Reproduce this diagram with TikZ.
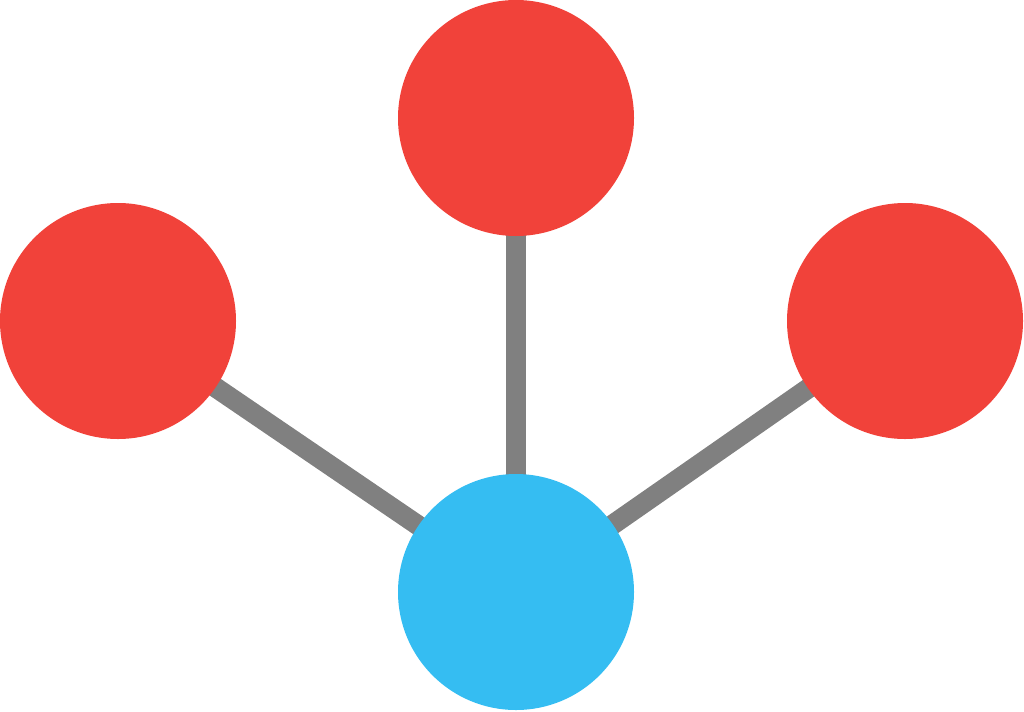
\documentclass[tikz,border=0pt]{standalone}
\usepackage{tikz}
\usetikzlibrary{backgrounds}

\definecolor{dotred}{RGB}{241,66,58}
\definecolor{dotblue}{RGB}{53,189,242}
\definecolor{linkgray}{RGB}{128,128,128}

\tikzset{
  dot/.style={circle,inner sep=0pt,minimum size=177pt},
  link/.style={draw=linkgray,line width=15pt}
}

\begin{document}
\begin{tikzpicture}[x=0.75pt,y=0.75pt,yscale=-1,xscale=1]
%set diagram left start at 0, and has height of 711
\useasboundingbox (0,0) rectangle (1024,711);

% Circle Nodes
\node [dot,fill=dotred] (top) at (516,118) {};
\node [dot,fill=dotred] (left) at (118,321) {};
\node [dot,fill=dotred] (right) at (905,321) {};
\node [dot,fill=dotblue] (hub) at (516,592) {};

%Straight Lines
\begin{pgfonlayer}{background}
\draw [link] (hub.center) -- (top.center) ;
\draw [link] (hub.center) -- (left.center) ;
\draw [link] (hub.center) -- (right.center) ;
\end{pgfonlayer}

\end{tikzpicture}
\end{document}
